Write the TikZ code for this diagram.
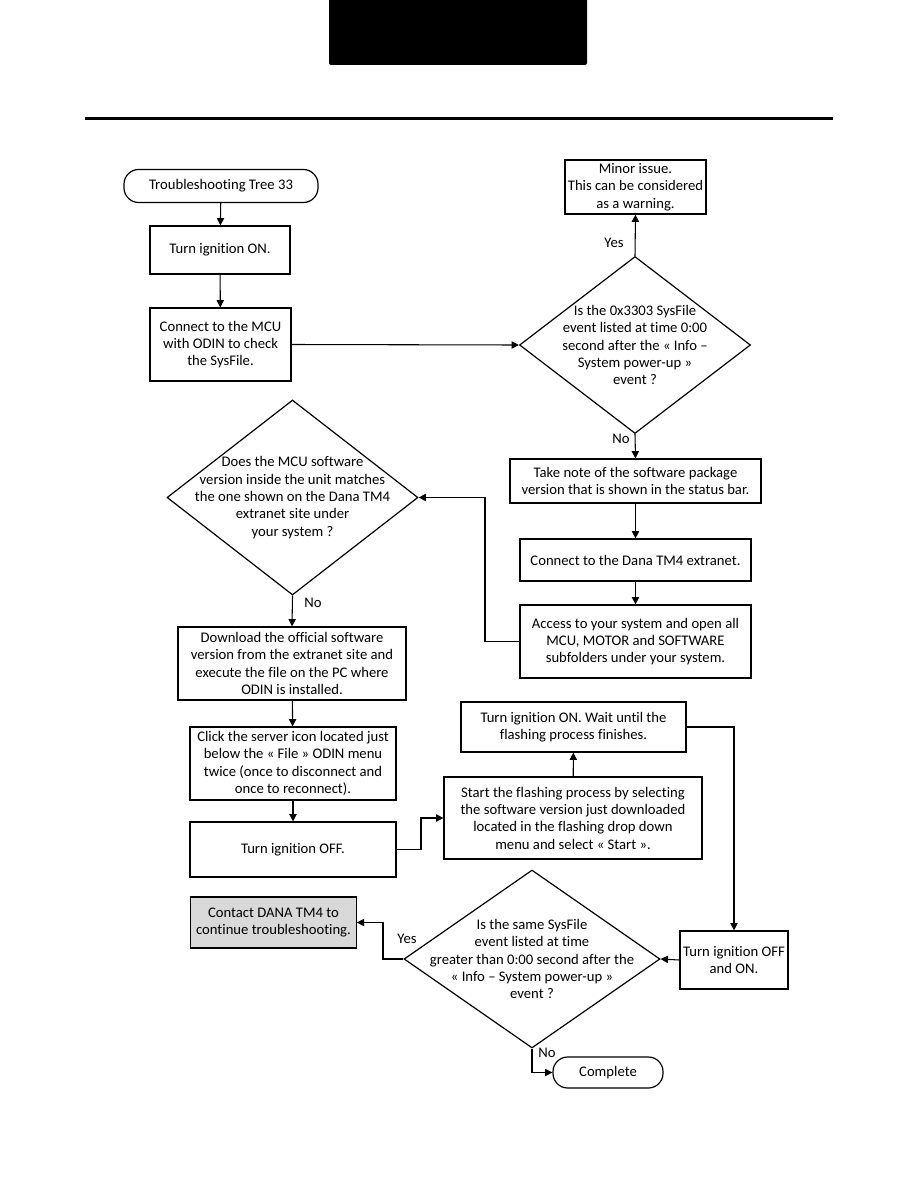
\documentclass[tikz,border=0pt]{standalone}
\usepackage{fontspec}
\setmainfont{Carlito}[Ligatures={NoCommon}]
\usetikzlibrary{shapes.geometric,arrows.meta}
\begin{document}
\begin{tikzpicture}[x=0.75pt,y=-0.75pt,
  font=\fontsize{11}{13}\selectfont,
  box/.style={draw,line width=0.9pt,align=center,inner sep=0pt},
  term/.style={draw,line width=0.9pt,rounded corners=11pt,align=center,inner sep=0pt},
  dec/.style={draw,diamond,line width=0.9pt,inner sep=0pt},
  dtext/.style={align=center,inner sep=0pt},
  lbl/.style={inner sep=0pt},
  arr/.style={line width=0.8pt,-{Triangle[length=5.5pt,width=5.5pt]}},
  ln/.style={line width=0.8pt}]
\useasboundingbox (0,0) rectangle (918,1188);
% header
\fill[black,rounded corners=1.5pt] (329,-5) rectangle (587,65);
\draw[line width=1.6pt] (85,118.5) -- (833,118.5);
% nodes
\node[term,minimum width=145.5pt,minimum height=24.75pt] (start) at (221,186) {Troubleshooting Tree 33};
\node[box,minimum width=105pt,minimum height=36pt] (n1) at (220,250) {Turn ignition ON.};
\node[box,minimum width=105.75pt,minimum height=54.75pt] (n2) at (220.5,344.5) {Connect to the MCU\\with ODIN to check\\the SysFile.};
\node[dec,minimum width=173.25pt,minimum height=132.75pt] (d1) at (635,345) {};
\node[dtext] (d1t) at (635,345) {Is the 0x3303 SysFile\\event listed at time 0:00\\second after the « Info –\\System power-up »\\event ?};
\node[box,minimum width=105.75pt,minimum height=40.5pt] (minor) at (635.5,187) {Minor issue.\\This can be considered\\as a warning.};
\node[box,minimum width=188.25pt,minimum height=33pt] (take) at (635.5,481) {Take note of the software package\\version that is shown in the status bar.};
\node[box,minimum width=173.25pt,minimum height=31.5pt] (dana) at (635.5,560) {Connect to the Dana TM4 extranet.};
\node[box,minimum width=173.25pt,minimum height=54.75pt] (access) at (635.5,641.5) {Access to your system and open all\\MCU, MOTOR and SOFTWARE\\subfolders under your system.};
\node[dec,minimum width=188.25pt,minimum height=146.25pt] (d2) at (292.5,497.5) {};
\node[dtext] (d2t) at (292.5,497.5) {Does the MCU software\\version inside the unit matches\\the one shown on the Dana TM4\\extranet site under\\your system ?};
\node[box,minimum width=171pt,minimum height=54.75pt] (download) at (292,663.5) {Download the official software\\version from the extranet site and\\execute the file on the PC where\\ODIN is installed.};
\node[box,minimum width=154.5pt,minimum height=54.75pt] (click) at (293,763.5) {Click the server icon located just\\below the « File » ODIN menu\\twice (once to disconnect and\\once to reconnect).};
\node[box,minimum width=154.5pt,minimum height=41.25pt] (off) at (293,849.5) {Turn ignition OFF.};
\node[box,minimum width=193.5pt,minimum height=61.5pt] (flash) at (573,818) {Start the flashing process by selecting\\the software version just downloaded\\located in the flashing drop down\\menu and select « Start ».};
\node[box,minimum width=168.75pt,minimum height=37.5pt] (wait) at (573.5,727) {Turn ignition ON. Wait until the\\flashing process finishes.};
\node[box,minimum width=81pt,minimum height=43.5pt] (offon) at (734,960) {Turn ignition OFF\\and ON.};
\node[dec,minimum width=192pt,minimum height=133.5pt] (d3) at (532,959) {};
\node[dtext] (d3t) at (532,959) {Is the same SysFile\\event listed at time\\greater than 0:00 second after the\\« Info – System power-up »\\event ?};
\node[box,fill=black!15,minimum width=124pt,minimum height=38.25pt] (contact) at (273.5,922.5) {Contact DANA TM4 to\\continue troubleshooting.};
\node[term,minimum width=82.5pt,minimum height=23.25pt] (complete) at (608,1072.5) {Complete};
% labels
\node[lbl] (yes1) at (614,243) {Yes};
\node[lbl] (no1) at (621,439) {No};
\node[lbl] (no2) at (313,603) {No};
\node[lbl] (yes3) at (407,939) {Yes};
\node[lbl] (no3) at (547,1053) {No};
% helper coordinates
\coordinate (c1) at (485,641.5);
\coordinate (c2) at (421,849.5);
\coordinate (c3) at (383,959);
% connectors
\draw[arr] (start) -- (n1);
\draw[arr] (n1) -- (n2);
\draw[arr] (n2.east) -- (d1.west);
\draw[arr] (d1.north) -- (minor.south);
\draw[arr] (d1.south) -- (take.north);
\draw[arr] (take) -- (dana);
\draw[arr] (dana) -- (access);
\draw[arr] (access.west) -- (c1) |- (d2.east);
\draw[arr] (d2.south) -- (download.north);
\draw[arr] (download) -- (click);
\draw[arr] (click) -- (off);
\draw[arr] (off.east) -- (c2) |- (flash.west);
\draw[arr] (flash) -- (wait);
\draw[arr] (wait.east) -| (offon.north);
\draw[arr] (offon.west) -- (d3.east);
\draw[arr] (d3.west) -- (c3) |- (contact.east);
\draw[arr] (d3.south) |- (complete.west);
\end{tikzpicture}
\end{document}
